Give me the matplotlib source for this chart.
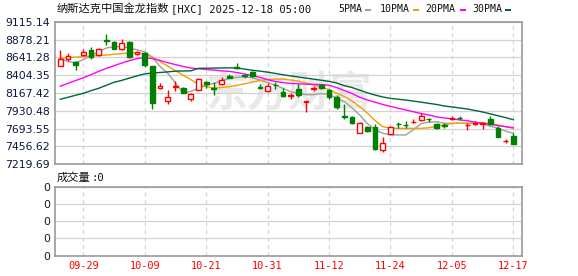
import matplotlib
matplotlib.use("Agg")
import matplotlib.pyplot as plt
from matplotlib.patches import Rectangle
import numpy as np

plt.rcParams['font.family'] = ['DejaVu Sans', 'Noto Sans CJK SC']

title_cjk = "纳斯达克中国金龙指数"
title_rest = "[HXC] 2025-12-18 05:00"
dates = ["09-24", "09-25", "09-26", "09-29", "09-30", "10-01", "10-02", "10-03", "10-06", "10-07",
         "10-08", "10-09", "10-10", "10-13", "10-14", "10-15", "10-16", "10-17", "10-20", "10-21",
         "10-22", "10-23", "10-24", "10-27", "10-28", "10-29", "10-30", "10-31", "11-03", "11-04",
         "11-05", "11-06", "11-07", "11-10", "11-11", "11-12", "11-13", "11-14", "11-17", "11-18",
         "11-19", "11-20", "11-21", "11-24", "11-25", "11-26", "11-28", "12-01", "12-02", "12-03",
         "12-04", "12-05", "12-08", "12-09", "12-10", "12-11", "12-12", "12-15", "12-16", "12-17"]

opens = [8532.7, 8615.9, 8585.3, 8677.2, 8742.9, 8672.9, 8865.5, 8843.6, 8747.3, 8848.0,
         8686.0, 8694.7, 8524.0, 8234.9, 8064.1, 8248.1, 8234.9, 8081.7, 8213.0, 8318.1,
         8230.5, 8291.8, 8388.2, 8510.8, 8405.7, 8440.7, 8243.7, 8195.5, 8278.7, 8178.0,
         8129.8, 8217.4, 8051.0, 8221.8, 8278.7, 8213.0, 8112.3, 7862.7, 7845.2, 7635.0,
         7713.8, 7709.4, 7407.3, 7626.2, 7757.6, 7744.5, 7779.5, 7810.1, 7823.3, 7757.6,
         7735.7, 7827.7, 7840.8, 7735.7, 7762.0, 7762.0, 7823.3, 7705.1, 7525.5, 7600.0]
highs = [8738.5, 8694.7, 8598.4, 8751.7, 8773.6, 8764.8, 8953.1, 8852.4, 8878.7, 8861.1,
         8729.8, 8707.9, 8532.7, 8305.0, 8204.3, 8326.9, 8248.1, 8173.6, 8361.9, 8326.9,
         8313.7, 8379.4, 8423.2, 8563.4, 8423.2, 8453.9, 8291.8, 8305.0, 8318.1, 8230.5,
         8169.2, 8287.5, 8059.8, 8256.8, 8291.8, 8221.8, 8138.6, 8016.0, 7867.1, 7783.9,
         7722.6, 7753.2, 7582.4, 7722.6, 7783.9, 7797.0, 7827.7, 7897.7, 7832.1, 7766.4,
         7766.4, 7862.7, 7862.7, 7775.1, 7797.0, 7788.3, 7862.7, 7722.6, 7556.2, 7635.0]
lows = [8524.0, 8598.4, 8475.8, 8664.1, 8620.3, 8664.1, 8804.2, 8747.3, 8734.1, 8633.4,
        8672.9, 8510.8, 7959.0, 8221.8, 8020.3, 8191.1, 8164.9, 8059.8, 8204.3, 8239.3,
        8143.0, 8278.7, 8361.9, 8488.9, 8370.7, 8383.8, 8217.4, 8182.4, 8217.4, 8116.7,
        8081.7, 8107.9, 7919.6, 8191.1, 8226.2, 8090.4, 7950.3, 7827.7, 7753.2, 7630.6,
        7643.8, 7416.0, 7385.4, 7621.9, 7705.1, 7705.1, 7775.1, 7801.4, 7779.5, 7687.5,
        7705.1, 7810.1, 7810.1, 7670.0, 7744.5, 7687.5, 7740.1, 7578.1, 7503.6, 7494.9]
closes = [8620.3, 8664.1, 8545.8, 8707.9, 8642.2, 8756.1, 8856.8, 8756.1, 8826.1, 8642.2,
          8716.6, 8537.1, 8029.1, 8265.6, 8107.9, 8256.8, 8173.6, 8160.5, 8353.2, 8283.1,
          8221.8, 8335.6, 8366.3, 8493.3, 8397.0, 8397.0, 8234.9, 8265.6, 8270.0, 8125.4,
          8138.6, 8134.2, 8055.4, 8230.5, 8239.3, 8116.7, 7985.3, 7853.9, 7766.4, 7775.1,
          7665.7, 7420.4, 7503.6, 7709.4, 7748.8, 7735.7, 7788.3, 7862.7, 7818.9, 7696.3,
          7727.0, 7836.4, 7832.1, 7744.5, 7770.7, 7770.7, 7757.6, 7582.4, 7534.3, 7494.9]

ma5 = [8629, 8585, 8570, 8610, 8665, 8716, 8765, 8783, 8783, 8770,
       8740, 8716, 8640, 8520, 8430, 8300, 8164, 8190, 8230, 8265,
       8296, 8330, 8363, 8375, 8384, 8370, 8340, 8305, 8274, 8230,
       8185, 8165, 8145, 8145, 8160, 8150, 8100, 8052, 7970, 7875,
       7760, 7680, 7632, 7610, 7610, 7610, 7680, 7760, 7780, 7786,
       7765, 7765, 7765, 7765, 7765, 7758, 7725, 7700, 7660, 7632]
ma10 = [8629, 8638, 8645, 8650, 8658, 8665, 8672, 8682, 8690, 8700,
        8703, 8690, 8645, 8585, 8525, 8465, 8405, 8345, 8285, 8255,
        8232, 8240, 8252, 8268, 8290, 8310, 8335, 8345, 8350, 8352,
        8340, 8325, 8300, 8275, 8240, 8215, 8165, 8120, 8060, 7985,
        7900, 7800, 7720, 7700, 7698, 7697, 7697, 7698, 7705, 7725,
        7745, 7762, 7765, 7765, 7765, 7765, 7762, 7740, 7720, 7700]
ma20 = [8257, 8295, 8333, 8371, 8410, 8455, 8495, 8530, 8565, 8598,
        8625, 8640, 8625, 8600, 8570, 8545, 8520, 8500, 8490, 8480,
        8472, 8462, 8455, 8440, 8420, 8400, 8375, 8345, 8320, 8305,
        8295, 8290, 8285, 8282, 8280, 8270, 8240, 8200, 8160, 8110,
        8075, 8045, 8015, 7990, 7965, 7942, 7918, 7895, 7875, 7850,
        7835, 7825, 7810, 7800, 7780, 7768, 7750, 7735, 7720, 7705]
ma30 = [8084, 8110, 8137, 8164, 8198, 8230, 8270, 8310, 8335, 8365,
        8395, 8422, 8432, 8440, 8448, 8458, 8460, 8462, 8495, 8497,
        8498, 8500, 8502, 8500, 8485, 8470, 8458, 8445, 8428, 8410,
        8395, 8380, 8366, 8352, 8337, 8322, 8300, 8265, 8240, 8205,
        8170, 8140, 8115, 8096, 8085, 8073, 8060, 8045, 8030, 8015,
        7995, 7982, 7968, 7955, 7935, 7915, 7890, 7865, 7840, 7812]

y_ticks = [9115.14, 8878.21, 8641.28, 8404.35, 8167.42, 7930.48, 7693.55, 7456.62, 7219.69]
x_tick_labels = ["09-29", "10-09", "10-21", "10-31", "11-12", "11-24", "12-05", "12-17"]
legend_names = ["5PMA", "10PMA", "20PMA", "30PMA"]

RED = "#ff0000"
GREEN = "#008000"
MA_COLORS = ["#a0a0a0", "#f0a000", "#ff00ff", "#006633"]
GRID = "#d3d3d3"
BORDER = "#999999"
LABEL = "#0a1a3a"
MONO = ["DejaVu Sans Mono"]

W, H = 578, 276
fig = plt.figure(figsize=(W / 100, H / 100), dpi=100)
fig.patch.set_facecolor("white")

def fx(x):
    return x / W

def fy(y):
    return 1 - y / H

ax = fig.add_axes([fx(55), fy(164.3), fx(522.3) - fx(55), fy(21.7) - fy(164.3)])
axv = fig.add_axes([fx(55), fy(255.7), fx(522.3) - fx(55), fy(186.7) - fy(255.7)])

n = len(closes)
xs = np.arange(n)
tick_idx = [dates.index(d) for d in x_tick_labels]

for a in (ax, axv):
    a.set_xlim(-0.685, n - 1 + 1.17)
    for s in a.spines.values():
        s.set_color(BORDER)
        s.set_linewidth(1.2)
    a.tick_params(length=0)
    for t in tick_idx:
        a.axvline(t, color=GRID, lw=0.9, ls=(0, (3, 3)), zorder=0)

ax.set_ylim(y_ticks[-1], y_ticks[0])
ax.set_yticks(y_ticks)
ax.set_yticklabels([f"{v:.2f}" for v in y_ticks], fontsize=7.8, color=LABEL)
ax.yaxis.grid(True, color=GRID, lw=0.9)
ax.set_xticks([])
ax.set_axisbelow(True)

# watermark
ax.text(0.50, 0.50, "东方财富", transform=ax.transAxes, fontsize=30, fontweight="bold",
        color="#e9e9e9", ha="center", va="center", family=["Noto Sans CJK SC"],
        style="italic", zorder=0.5)

# MA lines
for vals, c in zip([ma5, ma10, ma20, ma30], MA_COLORS):
    ax.plot(xs, vals, color=c, lw=1.0, zorder=2)

# candles
bw = 0.62
for i in range(n):
    o, h, l, c = opens[i], highs[i], lows[i], closes[i]
    up = c >= o
    col = RED if up else GREEN
    top, bot = max(o, c), min(o, c)
    ax.vlines(i, top, h, color=col, lw=1.0, zorder=3)
    ax.vlines(i, l, bot, color=col, lw=1.0, zorder=3)
    if top - bot < 4:
        ax.hlines((top + bot) / 2, i - bw / 2, i + bw / 2, color=col, lw=1.4, zorder=4)
    else:
        ax.add_patch(Rectangle((i - bw / 2, bot), bw, top - bot,
                               facecolor="white" if up else col, edgecolor=col,
                               lw=1.0, zorder=4))

# volume panel (empty)
axv.set_ylim(0, 4)
axv.set_yticks([0, 1, 2, 3, 4])
axv.set_yticklabels(["0"] * 5, fontsize=7.8, color=LABEL)
axv.yaxis.grid(True, color=GRID, lw=0.9)
axv.set_xticks(tick_idx)
axv.set_xticklabels(x_tick_labels, fontsize=7.4, color=RED, family=MONO)
axv.tick_params(axis="x", pad=4)
axv.set_axisbelow(True)

fig.text(fx(57), fy(9), title_cjk, fontsize=8.1, color="#111111", va="center", ha="left",
         family=["Noto Sans CJK SC", "DejaVu Sans"])
fig.text(fx(171), fy(9.5), title_rest, fontsize=7.6, color="#111111", va="center", ha="left",
         family=MONO)
fig.text(fx(57), fy(177.7), "成交量", fontsize=8.1, color="#111111", va="center", ha="left",
         family=["Noto Sans CJK SC", "DejaVu Sans"])
fig.text(fx(91), fy(178), ":0", fontsize=7.6, color="#111111", va="center", ha="left",
         family=MONO)

# legend
leg_x = [338.3, 380, 425.7, 472.3]
mark_x = [365, 412.7, 460, 505.3]
for name, lx, mx, c in zip(legend_names, leg_x, mark_x, MA_COLORS):
    fig.text(fx(lx), fy(9.5), name, fontsize=7.1, color="#111111", va="center", ha="left",
             family=MONO)
    fig.patches.append(Rectangle((fx(mx), fy(11)), fx(6), fy(8.5) - fy(11),
                                 transform=fig.transFigure, facecolor=c, edgecolor="none"))

fig.savefig("out.png", dpi=100)
